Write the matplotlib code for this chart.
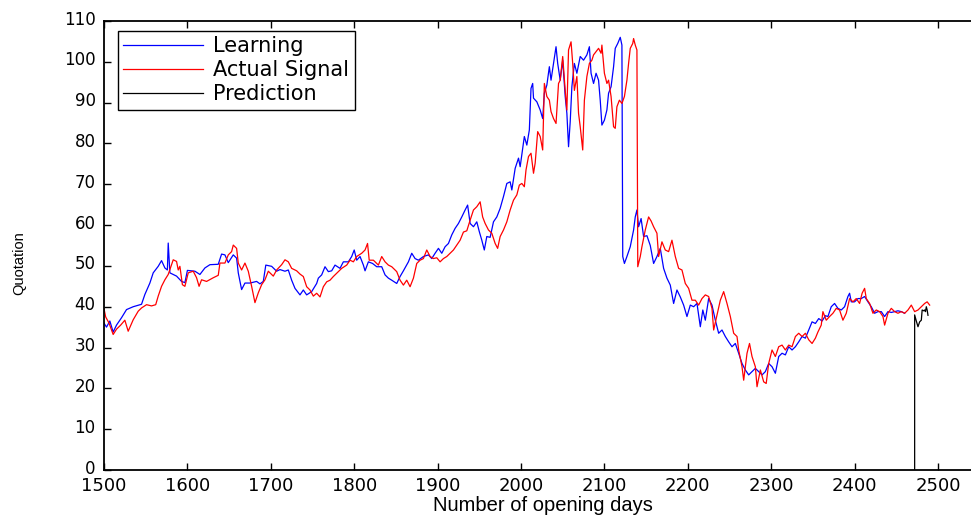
import matplotlib
matplotlib.use("Agg")
import matplotlib.pyplot as plt
from matplotlib.transforms import ScaledTranslation

# ---------------- data ----------------
learning_days = [1500, 1503, 1507, 1511, 1515, 1521, 1527, 1535, 1545, 1549, 1555, 1559, 1565, 1569,
                 1573, 1576, 1577, 1579, 1587, 1593, 1597, 1600, 1609, 1615, 1621, 1627, 1637, 1641,
                 1645, 1649, 1655, 1659, 1661, 1665, 1669, 1675, 1683, 1687, 1691, 1694, 1701, 1707,
                 1711, 1717, 1721, 1725, 1729, 1735, 1739, 1743, 1749, 1755, 1757, 1761, 1765, 1769,
                 1773, 1777, 1783, 1787, 1793, 1797, 1800, 1803, 1807, 1811, 1813, 1817, 1822, 1827,
                 1833, 1837, 1841, 1845, 1851, 1855, 1859, 1865, 1869, 1873, 1877, 1883, 1889, 1893,
                 1897, 1901, 1905, 1909, 1913, 1917, 1921, 1925, 1929, 1933, 1936, 1939, 1943, 1947,
                 1950, 1953, 1956, 1959, 1963, 1967, 1971, 1975, 1979, 1983, 1987, 1989, 1993, 1997,
                 1999, 2002, 2004, 2007, 2010, 2012, 2014, 2015, 2019, 2023, 2026, 2028, 2031, 2034,
                 2036, 2039, 2042, 2044, 2047, 2050, 2053, 2055, 2057, 2059, 2061, 2064, 2067, 2071,
                 2075, 2079, 2082, 2084, 2087, 2090, 2093, 2095, 2097, 2100, 2103, 2105, 2108, 2111,
                 2113, 2116, 2119, 2121, 2122, 2124, 2127, 2131, 2135, 2137, 2139, 2141, 2144, 2147,
                 2151, 2155, 2159, 2163, 2167, 2171, 2175, 2179, 2183, 2187, 2191, 2195, 2199, 2203,
                 2207, 2211, 2215, 2218, 2221, 2225, 2229, 2233, 2237, 2241, 2245, 2249, 2253, 2257,
                 2261, 2265, 2269, 2273, 2277, 2281, 2285, 2289, 2293, 2297, 2301, 2305, 2309, 2313,
                 2317, 2321, 2325, 2329, 2333, 2337, 2341, 2345, 2349, 2353, 2357, 2361, 2365, 2368,
                 2372, 2376, 2380, 2384, 2388, 2392, 2394, 2396, 2400, 2404, 2408, 2412, 2416, 2420,
                 2424, 2428, 2432, 2436, 2440, 2444, 2448, 2452, 2456, 2460]
learning_vals = [36.0, 35.0, 36.5, 33.8, 35.5, 37.3, 39.3, 40.0, 40.6, 43.0, 45.8, 48.3, 49.9, 51.3,
                 49.5, 49.0, 55.6, 48.3, 47.5, 46.2, 45.9, 48.9, 48.7, 47.9, 49.5, 50.3, 50.4, 52.9,
                 52.7, 50.8, 52.7, 51.9, 48.3, 44.2, 45.8, 45.8, 46.2, 45.6, 46.2, 50.2, 49.9, 48.7,
                 49.1, 48.7, 49.0, 46.5, 44.5, 42.9, 44.1, 42.9, 43.7, 45.7, 47.0, 47.8, 49.8, 48.6,
                 48.8, 50.2, 49.4, 51.0, 51.0, 52.3, 53.9, 51.4, 52.3, 50.2, 48.8, 51.0, 50.6, 49.8,
                 49.8, 47.8, 47.0, 46.5, 45.7, 47.4, 48.8, 51.0, 53.1, 51.8, 51.4, 52.3, 52.7, 51.8,
                 53.1, 54.3, 53.1, 54.7, 55.5, 57.6, 59.2, 60.4, 62.0, 63.7, 64.9, 60.4, 59.6, 60.8,
                 58.4, 56.3, 53.9, 57.2, 57.0, 60.8, 62.0, 64.1, 67.0, 70.2, 70.6, 68.6, 73.9, 76.4,
                 74.3, 78.8, 81.7, 79.6, 83.3, 93.5, 94.7, 91.1, 90.2, 88.2, 86.1, 92.3, 94.3, 98.8,
                 95.5, 99.6, 103.7, 99.6, 95.5, 100.4, 91.5, 87.4, 79.2, 85.3, 93.9, 99.6, 97.2, 101.3,
                 100.4, 101.7, 103.7, 97.2, 94.7, 97.2, 95.5, 90.6, 84.5, 85.7, 88.2, 92.3, 93.9, 98.8,
                 103.3, 104.5, 106.0, 104.1, 52.3, 50.6, 52.3, 54.7, 58.8, 62.0, 63.7, 59.6, 61.6, 57.2,
                 57.4, 55.0, 50.6, 52.3, 54.3, 49.4, 47.0, 45.3, 40.8, 44.1, 42.4, 40.4, 37.6, 40.4,
                 40.0, 40.8, 35.1, 39.2, 36.7, 42.0, 40.4, 36.7, 33.5, 34.3, 32.7, 31.4, 30.2, 31.0,
                 28.6, 26.1, 24.5, 23.3, 24.1, 24.9, 24.1, 23.3, 24.1, 26.1, 25.3, 23.7, 27.8, 28.6,
                 28.2, 30.2, 29.4, 30.2, 31.4, 32.7, 32.3, 34.3, 36.3, 35.9, 37.1, 36.5, 37.8, 37.6,
                 40.0, 40.8, 39.6, 39.2, 40.0, 42.5, 43.3, 41.2, 41.2, 42.0, 42.0, 42.5, 41.2, 40.0,
                 38.4, 38.8, 38.8, 37.6, 38.8, 38.6, 38.8, 39.0, 38.8, 38.4]

actual_days = [1500, 1502, 1506, 1511, 1515, 1520, 1525, 1529, 1535, 1541, 1545, 1551, 1557, 1562,
               1565, 1569, 1573, 1577, 1583, 1587, 1589, 1591, 1594, 1597, 1601, 1607, 1611, 1614,
               1617, 1623, 1631, 1637, 1639, 1645, 1649, 1653, 1655, 1659, 1661, 1665, 1669, 1673,
               1677, 1681, 1685, 1689, 1693, 1697, 1703, 1707, 1713, 1717, 1721, 1725, 1731, 1735,
               1739, 1743, 1747, 1751, 1755, 1759, 1763, 1767, 1771, 1775, 1781, 1785, 1791, 1795,
               1799, 1803, 1809, 1813, 1816, 1818, 1823, 1829, 1833, 1837, 1841, 1845, 1851, 1855,
               1859, 1863, 1867, 1871, 1875, 1879, 1883, 1887, 1891, 1895, 1899, 1903, 1907, 1911,
               1915, 1919, 1923, 1927, 1931, 1935, 1939, 1943, 1947, 1951, 1954, 1957, 1961, 1965,
               1969, 1972, 1975, 1979, 1983, 1987, 1991, 1995, 1998, 2001, 2004, 2006, 2009, 2012,
               2015, 2017, 2020, 2023, 2026, 2028, 2031, 2034, 2036, 2039, 2042, 2045, 2047, 2050,
               2053, 2055, 2057, 2060, 2062, 2064, 2067, 2069, 2071, 2074, 2076, 2079, 2082, 2085,
               2087, 2090, 2093, 2096, 2097, 2100, 2103, 2105, 2108, 2111, 2113, 2115, 2118, 2121,
               2124, 2127, 2129, 2131, 2134, 2135, 2137, 2139, 2140, 2143, 2145, 2149, 2153, 2156,
               2159, 2163, 2165, 2169, 2173, 2177, 2181, 2185, 2189, 2193, 2197, 2201, 2205, 2209,
               2213, 2217, 2221, 2225, 2229, 2231, 2235, 2239, 2243, 2247, 2251, 2255, 2259, 2261,
               2265, 2267, 2271, 2274, 2277, 2281, 2283, 2287, 2291, 2294, 2297, 2301, 2305, 2309,
               2313, 2317, 2321, 2325, 2329, 2333, 2337, 2341, 2345, 2349, 2353, 2356, 2360, 2362,
               2366, 2370, 2374, 2378, 2382, 2386, 2390, 2394, 2398, 2402, 2406, 2409, 2412, 2414,
               2418, 2422, 2426, 2430, 2434, 2436, 2440, 2444, 2448, 2452, 2456, 2460, 2464, 2468,
               2472, 2476, 2480, 2484, 2487, 2490]
actual_vals = [39.5, 37.5, 36.0, 33.2, 34.5, 35.5, 36.7, 34.0, 36.8, 38.9, 39.7, 40.5, 40.2, 40.5,
               42.6, 45.0, 46.6, 47.9, 51.5, 51.1, 49.0, 49.9, 45.4, 45.0, 48.3, 48.7, 47.1, 45.0,
               46.6, 46.2, 47.1, 47.7, 50.7, 50.7, 52.7, 53.5, 55.1, 54.3, 50.7, 49.0, 50.7, 48.7,
               45.0, 41.0, 43.4, 45.4, 46.6, 48.7, 47.5, 49.0, 50.3, 51.5, 51.0, 49.4, 48.8, 48.0,
               47.4, 44.9, 44.1, 42.6, 43.3, 42.4, 44.9, 46.1, 46.5, 47.4, 48.6, 49.4, 50.2, 51.4,
               51.0, 52.3, 53.1, 53.9, 55.5, 51.4, 51.4, 50.2, 52.3, 51.0, 50.2, 49.8, 48.6, 46.5,
               45.3, 46.5, 44.9, 47.0, 50.6, 51.4, 51.8, 53.9, 52.3, 51.8, 52.0, 51.0, 51.8, 52.3,
               53.1, 53.9, 55.1, 56.3, 58.3, 58.6, 61.2, 63.7, 64.5, 65.7, 62.0, 60.4, 58.8, 58.0,
               55.5, 54.3, 57.2, 58.8, 60.8, 63.7, 66.1, 67.4, 69.8, 70.2, 69.4, 73.5, 76.8, 77.6,
               72.7, 75.2, 82.9, 81.7, 78.4, 94.7, 91.5, 90.6, 87.8, 86.1, 84.9, 94.7, 95.5, 101.3,
               93.0, 88.2, 102.9, 104.9, 99.6, 93.0, 96.4, 87.4, 84.1, 78.4, 90.6, 96.4, 99.6, 100.4,
               101.7, 102.5, 103.3, 102.1, 104.1, 97.2, 94.7, 95.5, 91.5, 84.1, 83.7, 89.0, 90.6, 89.8,
               91.5, 95.5, 99.6, 103.3, 104.5, 105.7, 104.1, 102.9, 49.8, 52.3, 54.7, 58.8, 62.0, 61.0,
               59.6, 58.0, 52.3, 55.9, 53.9, 53.5, 56.3, 52.3, 49.4, 49.0, 45.7, 44.5, 41.6, 41.6,
               40.4, 42.0, 42.9, 42.5, 39.6, 34.3, 38.0, 41.6, 43.7, 40.8, 37.6, 33.5, 32.7, 29.4,
               25.3, 22.0, 28.6, 31.0, 27.8, 25.3, 20.4, 24.5, 21.6, 21.2, 26.1, 29.4, 27.8, 30.2,
               30.6, 29.4, 30.6, 30.2, 32.7, 33.5, 32.7, 33.5, 31.9, 31.0, 32.3, 33.8, 35.5, 38.8,
               36.7, 37.6, 38.4, 39.6, 39.2, 36.7, 38.4, 42.0, 41.2, 42.0, 40.8, 43.3, 44.5, 42.0,
               40.8, 38.4, 39.2, 38.8, 37.6, 35.5, 38.4, 39.6, 38.8, 38.4, 38.8, 38.4, 39.2, 40.4,
               38.8, 39.2, 40.0, 40.8, 41.2, 40.4]

prediction_days = [2472, 2472, 2474, 2476, 2478, 2480, 2481, 2483, 2484, 2485, 2486, 2487, 2488]
prediction_vals = [0.0, 38.0, 36.5, 35.1, 36.3, 36.7, 39.2, 39.0, 39.2, 38.8, 40.0, 39.2, 37.9]

x_ticks = [1500, 1600, 1700, 1800, 1900, 2000, 2100, 2200, 2300, 2400, 2500]
y_ticks = [0, 10, 20, 30, 40, 50, 60, 70, 80, 90, 100, 110]
series_labels = ["Learning", "Actual Signal", "Prediction"]

# ---------------- figure ----------------
plt.rcParams['font.family'] = ['DejaVu Sans']
fig = plt.figure(figsize=(9.71, 5.16), dpi=100)
ax_w = 0.905
ax = fig.add_axes([104 / 971, 1 - 470 / 516, ax_w, 449 / 516])

ax.plot(learning_days, learning_vals, color='#0000ff', lw=0.9, label=series_labels[0])
ax.plot(actual_days, actual_vals, color='#ff0000', lw=0.9, label=series_labels[1])
ax.plot(prediction_days, prediction_vals, color='black', lw=0.9, label=series_labels[2])

ax.set_xlim(1500, 1500 + (ax_w * 971) / 0.834)
ax.set_ylim(0, 110)
ax.set_xticks(x_ticks)
ax.set_yticks(y_ticks)
ax.tick_params(axis='both', direction='in', top=True, right=False,
               width=1.0, length=5)
ax.tick_params(axis='x', pad=5, labelsize=13)
ax.tick_params(axis='y', pad=6, labelsize=12)
for side in ['left', 'bottom', 'top']:
    ax.spines[side].set_linewidth(1.3)
ax.spines['right'].set_visible(False)

# MATLAB-like placement: y tick labels sit a touch above their ticks
shift_up = ScaledTranslation(0, 2.5 / 72, fig.dpi_scale_trans)
for lbl in ax.get_yticklabels():
    lbl.set_transform(lbl.get_transform() + shift_up)

ax.set_xlabel("Number of opening days", fontsize=14.5, family='Liberation Sans', labelpad=1)
ax.set_ylabel("Quotation", fontsize=10.5, family='Liberation Sans')
ax.yaxis.set_label_coords(-0.089, 0.46)

leg = ax.legend(loc='upper left', bbox_to_anchor=(0.016, 0.978), borderaxespad=0,
                fontsize=15, handlelength=3.85, handletextpad=0.48, labelspacing=0.2,
                borderpad=0.25, fancybox=False, framealpha=1, edgecolor='black')
leg.get_frame().set_linewidth(1.0)

fig.savefig("out.png", dpi=100)
